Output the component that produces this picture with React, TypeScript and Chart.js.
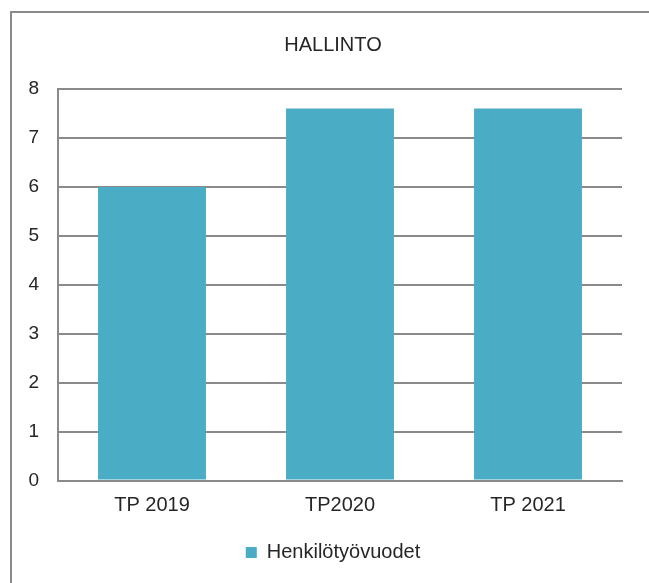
import React, { useEffect, useRef } from "react";
import { Chart, registerables } from "chart.js";

Chart.register(...registerables);

const categories = ["TP 2019", "TP2020", "TP 2021"];
const seriesName = "Henkilötyövuodet";
const seriesValues = [6, 7.6, 7.6];
const titleText = "HALLINTO";
const yMin = 0;
const yMax = 8;
const yStep = 1;

const TEAL = "#4BACC6";
const GRID = "#8a8a8a";
const TEXT = "#262626";
const FONT = "'Liberation Sans', Arial, sans-serif";

export default function App() {
  const ref = useRef<HTMLCanvasElement | null>(null);

  useEffect(() => {
    if (!ref.current) return;
    const chart = new Chart(ref.current, {
      type: "bar",
      data: {
        labels: categories,
        datasets: [
          {
            label: seriesName,
            data: seriesValues,
            backgroundColor: TEAL,
            borderWidth: 0,
            barPercentage: 0.574,
            categoryPercentage: 1,
            yAxisID: "y",
          },
        ],
      },
      options: {
        animation: false,
        responsive: false,
        layout: { padding: { left: 28, right: 11, top: 0, bottom: 10.5 } },
        plugins: {
          title: {
            display: true,
            text: titleText,
            color: TEXT,
            font: { family: FONT, size: 20, weight: "normal" },
            padding: { top: 33, bottom: 32 },
          },
          legend: {
            display: true,
            position: "bottom",
            labels: {
              color: TEXT,
              font: { family: FONT, size: 20 },
              boxWidth: 11,
              boxHeight: 11,
              padding: 13,
            },
          },
          tooltip: { enabled: false },
        },
        scales: {
          x: {
            grid: { display: false, drawTicks: false },
            border: { display: true, color: GRID, width: 2 },
            ticks: {
              color: TEXT,
              font: { family: FONT, size: 20 },
              padding: 12.5,
            },
          },
          y: {
            min: yMin,
            max: yMax,
            afterFit: (scale: any) => {
              scale.width = 30;
            },
            grid: { color: GRID, lineWidth: 2, drawTicks: false },
            border: { display: true, color: GRID, width: 2 },
            ticks: {
              stepSize: yStep,
              color: TEXT,
              font: { family: FONT, size: 19 },
              padding: 19,
            },
          },
          ySpacer: {
            type: "linear",
            position: "right",
            display: true,
            min: yMin,
            max: yMax,
            afterFit: (scale: any) => {
              scale.width = 16;
            },
            grid: { display: false, drawTicks: false },
            border: { display: false },
            ticks: { display: false },
          },
        },
      },
    });
    return () => chart.destroy();
  }, []);

  return (
    <div
      style={{
        position: "fixed",
        left: 0,
        top: 0,
        width: 649,
        height: 583,
        background: "#fff",
        overflow: "hidden",
      }}
    >
      <div
        style={{
          position: "absolute",
          left: 10,
          top: 11,
          width: 660,
          height: 600,
          borderLeft: `2px solid ${GRID}`,
          borderTop: `2px solid ${GRID}`,
        }}
      />
      <canvas
        ref={ref}
        width={649}
        height={583}
        style={{ position: "absolute", left: 0, top: 0, width: 649, height: 583 }}
      />
    </div>
  );
}
